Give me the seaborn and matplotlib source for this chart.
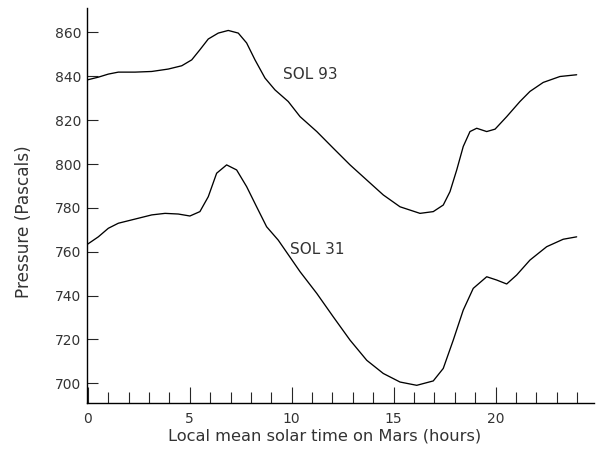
import matplotlib
matplotlib.use('Agg')
import matplotlib.pyplot as plt
from matplotlib.ticker import MultipleLocator
import pandas as pd
import seaborn as sns

# values
sol93_hours = [0, 0.52, 1.01, 1.5, 2.32, 3.14, 3.95, 4.61, 5.1, 5.5, 5.91, 6.4,
               6.89, 7.38, 7.79, 8.2, 8.69, 9.18, 9.83, 10.41, 11.23, 12.04,
               12.86, 13.68, 14.49, 15.31, 16.29, 16.94, 17.43, 17.76, 18.09,
               18.41, 18.74, 19.07, 19.56, 19.97, 20.54, 21.19, 21.68, 22.33,
               23.15, 23.97]
sol93_pressure = [838.4, 839.6, 841.0, 841.9, 841.9, 842.2, 843.3, 844.8, 847.5,
                  852.1, 857.0, 859.7, 860.9, 859.7, 855.2, 847.5, 839.2, 833.8,
                  828.5, 821.6, 814.8, 807.2, 799.6, 792.7, 785.9, 780.5, 777.5,
                  778.3, 781.3, 787.4, 797.3, 808.0, 814.8, 816.3, 814.8, 815.9,
                  821.6, 828.5, 833.1, 837.2, 839.9, 840.7]

sol31_hours = [0, 0.52, 1.01, 1.5, 2.32, 3.14, 3.79, 4.44, 5.01, 5.5, 5.91, 6.32,
               6.81, 7.3, 7.79, 8.28, 8.77, 9.34, 10.41, 11.23, 12.04, 12.86,
               13.68, 14.49, 15.31, 16.13, 16.94, 17.43, 17.92, 18.41, 18.9,
               19.56, 20.05, 20.54, 21.03, 21.68, 22.5, 23.31, 23.97]
sol31_pressure = [763.5, 766.8, 770.7, 773.0, 774.9, 776.8, 777.5, 777.2, 776.3,
                  778.3, 785.1, 795.8, 799.6, 797.3, 789.7, 780.5, 771.4, 765.3,
                  750.9, 741.0, 730.3, 719.7, 710.5, 704.5, 700.6, 699.1, 701.1,
                  706.8, 719.7, 733.4, 743.3, 748.6, 747.1, 745.3, 749.4, 756.2,
                  762.3, 765.7, 766.8]

sol_labels = ['SOL 93', 'SOL 31']
label_hours = [9.56, 9.92]
label_pressure = [840.7, 760.8]

sns.set_style('ticks')
plt.rcParams['font.family'] = ['DejaVu Sans']
text_color = '#333333'

fig = plt.figure(figsize=(5.96, 4.55), dpi=100)
ax = fig.add_axes([86.7 / 596, 1 - 403.3 / 455, (594 - 86.7) / 596, (403.3 - 8.3) / 455])

df93 = pd.DataFrame({'hour': sol93_hours, 'pressure': sol93_pressure})
df31 = pd.DataFrame({'hour': sol31_hours, 'pressure': sol31_pressure})
for d in [df93, df31]:
    sns.lineplot(data=d, x='hour', y='pressure', ax=ax, color='black', lw=0.95,
                 sort=False, estimator=None)

for lab, h, p in zip(sol_labels, label_hours, label_pressure):
    ax.text(h, p, lab, fontsize=11, color=text_color, ha='left', va='center')

ax.set_xlim(-0.05, 24.82)
ax.set_ylim(690.9, 871)
ax.xaxis.set_minor_locator(MultipleLocator(1))
ax.set_xticks(range(0, 21, 5))
ax.set_yticks(range(700, 861, 20))
ax.tick_params(axis='x', which='major', direction='in', length=11.5, width=0.8,
               pad=6, labelsize=10, labelcolor=text_color)
ax.tick_params(axis='x', which='minor', direction='in', length=7.7, width=0.8)
ax.tick_params(axis='y', direction='in', length=8, width=0.8, pad=4,
               labelsize=10, labelcolor=text_color)

sns.despine(ax=ax)
for s in ['left', 'bottom']:
    ax.spines[s].set_linewidth(1.0)
    ax.spines[s].set_color('black')

ax.set_xlabel('')
ax.set_ylabel('')
fig.text(325 / 596, 1 - 436 / 455, 'Local mean solar time on Mars (hours)',
         fontsize=11.7, color=text_color, ha='center', va='center')
fig.text(24 / 596, 1 - 221.7 / 455, 'Pressure (Pascals)', fontsize=12.2,
         color=text_color, ha='center', va='center', rotation=90)

fig.savefig('out.png', dpi=100)
